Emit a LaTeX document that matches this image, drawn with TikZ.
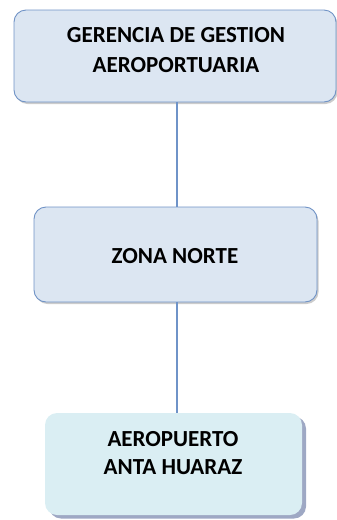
\documentclass[tikz,border=0pt]{standalone}
\usepackage{fontspec}
\setmainfont{Carlito}
\usetikzlibrary{shadows}
\definecolor{boxfill}{HTML}{DCE6F2}
\definecolor{boxline}{HTML}{7093C6}
\definecolor{lowfill}{HTML}{DAEEF3}
\definecolor{lowshadow}{HTML}{9EA8C4}
\definecolor{conn}{HTML}{6F93C8}
\tikzset{
  orgbox/.style={draw=boxline, line width=0.9pt, fill=boxfill, rounded corners=12pt,
    drop shadow={shadow xshift=1.5pt, shadow yshift=-2pt, fill=black!40, opacity=0.5}},
  lowbox/.style={fill=lowfill, rounded corners=12pt,
    drop shadow={shadow xshift=4pt, shadow yshift=-3.5pt, fill=lowshadow, opacity=1}},
  lbl/.style={font=\bfseries\fontsize{23}{30}\selectfont, align=center, inner sep=0pt},
  link/.style={draw=conn, line width=1.2pt}
}
\begin{document}
\begin{tikzpicture}[x=1pt,y=-1pt]
\useasboundingbox (0,0) rectangle (337,520);
\node[orgbox, minimum width=322pt, minimum height=92pt] (top) at (175,56) {};
\node[orgbox, minimum width=283pt, minimum height=95pt] (mid) at (175.5,254.5) {};
\node[lowbox, minimum width=257pt, minimum height=102pt] (low) at (173.5,464) {};
\coordinate (c1) at ([xshift=2pt]top.south);
\coordinate (c2) at (c1 |- mid.south);
\draw[link] (c1) -- (c1 |- mid.north);
\draw[link] (c2) -- (c2 |- low.north);
\node[lbl] (toptext) at (176,50) {GERENCIA DE GESTION\\AEROPORTUARIA};
\node[lbl] (midtext) at (175,256) {ZONA NORTE};
\node[lbl, font=\bfseries\fontsize{23}{28}\selectfont] (lowtext) at (173,453) {AEROPUERTO\\ANTA HUARAZ};
\end{tikzpicture}
\end{document}
